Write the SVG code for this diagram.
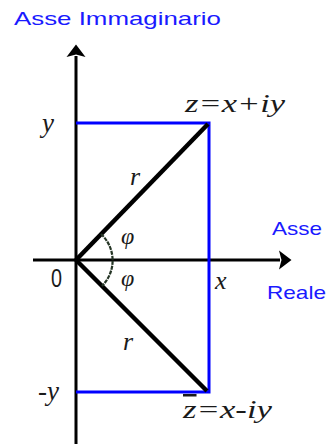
<svg xmlns="http://www.w3.org/2000/svg" width="328" height="444" viewBox="0 0 328 444">
<style>
.axis{stroke:#000;stroke-width:3;fill:none}
.blue{stroke:#0000ff;stroke-width:3;fill:none}
.rad{stroke:#000;stroke-width:4.5;stroke-linecap:butt}
.arc{stroke:#253525;stroke-width:2.2;fill:none;stroke-dasharray:4 1}
.lbl{font-family:"Liberation Sans",Arial,sans-serif;fill:#1a1aff}
.math{font-family:"Liberation Serif","DejaVu Serif","Times New Roman",serif;font-style:italic;fill:#1a1a1a}
</style>
<defs>
<marker id="arrow" viewBox="0 -10 13 20" refX="1" refY="0" markerWidth="13" markerHeight="20" markerUnits="userSpaceOnUse" orient="auto">
<path d="M0,-9.5 L12.5,0 L0,9.5 L2.5,0 Z" fill="#000"/>
</marker>
</defs>
<g id="connectors">
<line class="axis" x1="76" y1="444" x2="76" y2="56" marker-end="url(#arrow)"/>
<line class="axis" x1="33" y1="260" x2="280" y2="260" marker-end="url(#arrow)"/>
<polyline class="blue" points="76,123 209,123 209,392 76,392"/>
<line class="rad" x1="76" y1="260" x2="208" y2="124"/>
<line class="rad" x1="76" y1="260" x2="207" y2="391"/>
<path class="arc" d="M101,234 A36,36 0 0 1 102,286"/>
</g>
<g id="asse-immaginario"><text class="lbl" x="14" y="25" font-size="19" textLength="207" lengthAdjust="spacingAndGlyphs">Asse Immaginario</text></g>
<g id="asse-reale">
<text class="lbl" x="272" y="235" font-size="19" textLength="50" lengthAdjust="spacingAndGlyphs">Asse</text>
<text class="lbl" x="267" y="299" font-size="19" textLength="59" lengthAdjust="spacingAndGlyphs">Reale</text>
</g>
<g id="z"><text class="math" x="185" y="112" font-size="25" textLength="100" lengthAdjust="spacingAndGlyphs">z=x+iy</text></g>
<g id="zbar"><text class="math" x="183" y="418" font-size="25" textLength="89" lengthAdjust="spacingAndGlyphs"><tspan text-decoration="overline">z</tspan>=x-iy</text></g>
<g id="labels">
<text class="math" x="42" y="132" font-size="27">y</text>
<text class="math" x="38" y="400" font-size="27">-y</text>
<text class="math" x="130" y="185" font-size="26">r</text>
<text class="math" x="123" y="350" font-size="26">r</text>
<text class="math" x="121" y="244" font-size="24">φ</text>
<text class="math" x="121" y="286" font-size="24">φ</text>
<text class="math" x="215" y="289" font-size="26">x</text>
<text x="51" y="287" font-size="25" textLength="11" lengthAdjust="spacingAndGlyphs" font-family="Liberation Sans,Arial,sans-serif" fill="#1a1a1a">0</text>
</g>
</svg>
